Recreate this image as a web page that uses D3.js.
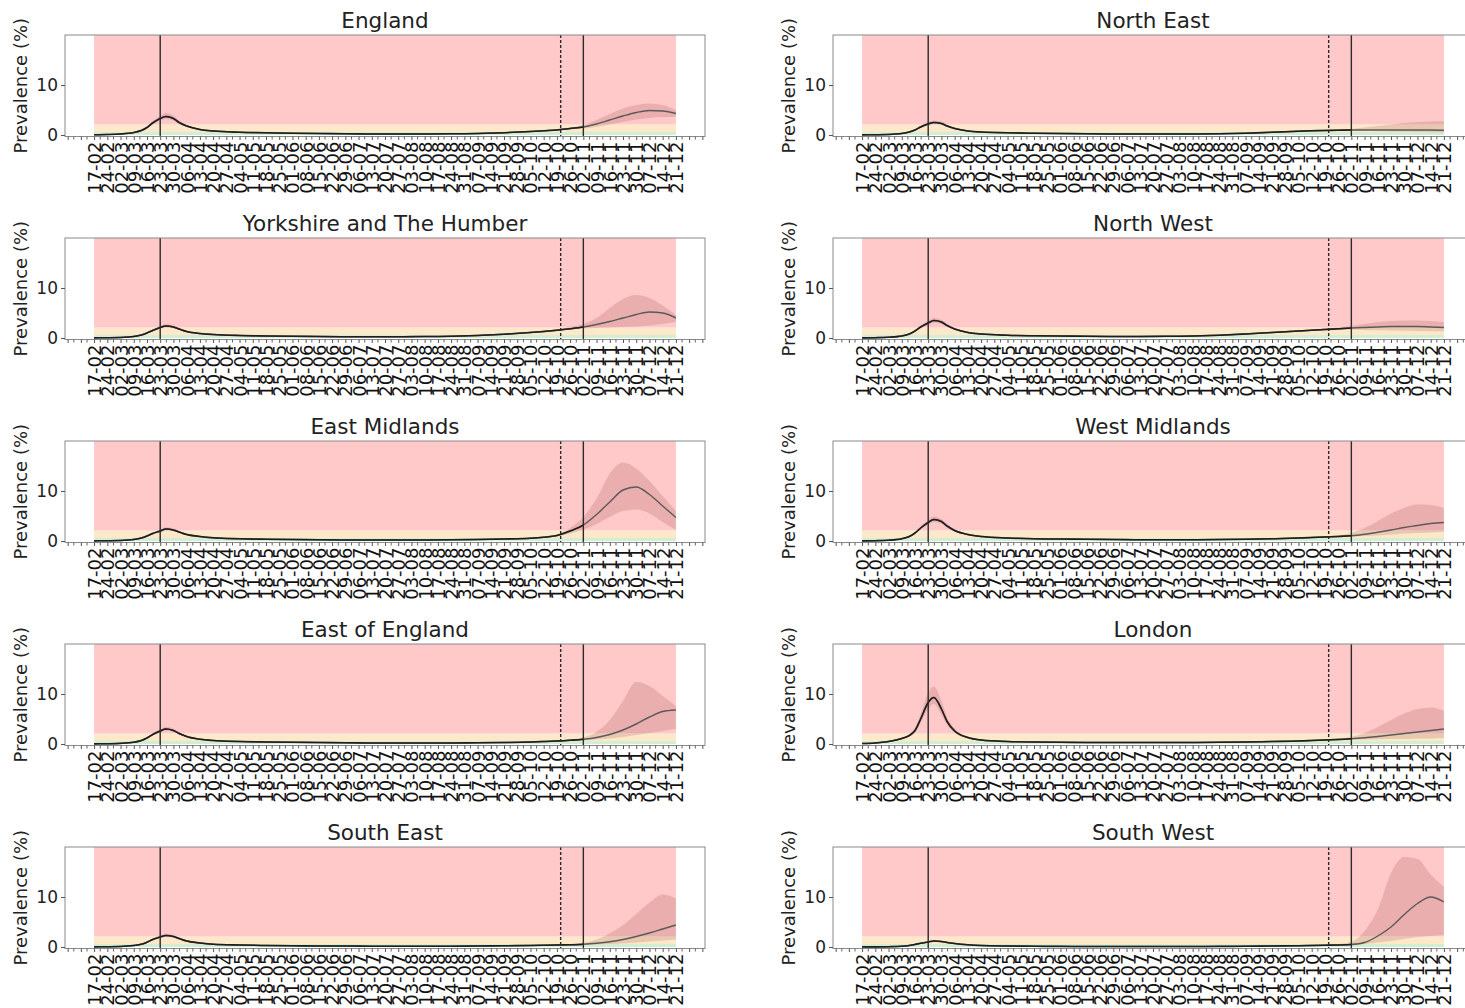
<!DOCTYPE html>
<html>
<head>
<meta charset="utf-8">
<script src="https://cdn.jsdelivr.net/npm/d3@7"></script>
<style>
  body { margin: 0; background: #fff; }
  svg { display: block; font-family: 'DejaVu Sans', sans-serif; }
</style>
</head>
<body>
<div id="chart"></div>
<script>
// sample dates (denser round the spring peak)
const dates = [
  '2020-02-17', '2020-02-24', '2020-03-02', '2020-03-09', '2020-03-13', '2020-03-16',
  '2020-03-19', '2020-03-23', '2020-03-26', '2020-03-30', '2020-04-02', '2020-04-06',
  '2020-04-13', '2020-04-20', '2020-05-04', '2020-05-18', '2020-06-01', '2020-06-15',
  '2020-06-29', '2020-07-13', '2020-07-27', '2020-08-10', '2020-08-24', '2020-09-07',
  '2020-09-21', '2020-10-05', '2020-10-12', '2020-10-19', '2020-10-26', '2020-11-02',
  '2020-11-09', '2020-11-16', '2020-11-23', '2020-11-30', '2020-12-07', '2020-12-14',
  '2020-12-21'
]

// prevalence (%) median / lower / upper
const englandMid = [0.05, 0.1, 0.2, 0.5, 0.9, 1.5, 2.4, 3.3, 3.7, 3.3, 2.5, 1.8, 1.1, 0.8, 0.55, 0.45, 0.35, 0.3, 0.25, 0.2, 0.2, 0.2, 0.25, 0.3, 0.45, 0.7, 0.85, 1.0, 1.3, 1.6, 2.2, 3.0, 3.8, 4.5, 4.9, 4.8, 4.3]
const englandLo = [0.04, 0.08, 0.17, 0.42, 0.78, 1.3, 2.1, 2.9, 3.2, 2.9, 2.2, 1.6, 1.0, 0.7, 0.5, 0.4, 0.3, 0.26, 0.22, 0.18, 0.18, 0.18, 0.22, 0.27, 0.4, 0.62, 0.75, 0.9, 1.15, 1.3, 1.6, 2.1, 2.6, 3.1, 3.4, 3.6, 3.6]
const englandHi = [0.06, 0.12, 0.24, 0.6, 1.05, 1.75, 2.8, 3.8, 4.4, 3.9, 2.9, 2.1, 1.25, 0.9, 0.62, 0.5, 0.4, 0.34, 0.28, 0.23, 0.23, 0.23, 0.28, 0.34, 0.5, 0.78, 0.95, 1.1, 1.5, 2.0, 3.0, 4.2, 5.3, 6.0, 6.3, 6.0, 5.0]

const northEastMid = [0.03, 0.05, 0.1, 0.3, 0.6, 1.0, 1.6, 2.2, 2.5, 2.3, 1.8, 1.3, 0.8, 0.6, 0.45, 0.35, 0.3, 0.25, 0.2, 0.2, 0.2, 0.2, 0.25, 0.35, 0.55, 0.75, 0.85, 0.9, 0.95, 1.0, 1.0, 1.0, 1.0, 1.0, 1.0, 1.0, 0.95]
const northEastLo = [0.02, 0.04, 0.08, 0.25, 0.5, 0.85, 1.4, 1.9, 2.2, 2.0, 1.6, 1.15, 0.7, 0.52, 0.4, 0.3, 0.26, 0.22, 0.18, 0.18, 0.18, 0.18, 0.22, 0.3, 0.48, 0.66, 0.75, 0.8, 0.85, 0.85, 0.8, 0.75, 0.7, 0.65, 0.6, 0.55, 0.5]
const northEastHi = [0.04, 0.06, 0.12, 0.36, 0.72, 1.2, 1.9, 2.6, 2.9, 2.7, 2.1, 1.5, 0.92, 0.7, 0.52, 0.4, 0.34, 0.28, 0.23, 0.23, 0.23, 0.23, 0.28, 0.4, 0.62, 0.85, 0.95, 1.0, 1.08, 1.2, 1.5, 1.8, 2.1, 2.4, 2.6, 2.7, 2.8]

const yorkshireMid = [0.03, 0.05, 0.1, 0.3, 0.6, 1.0, 1.5, 2.1, 2.4, 2.2, 1.8, 1.3, 0.9, 0.7, 0.5, 0.4, 0.35, 0.3, 0.25, 0.25, 0.25, 0.3, 0.35, 0.5, 0.75, 1.1, 1.3, 1.55, 1.85, 2.2, 2.7, 3.3, 4.0, 4.7, 5.2, 5.0, 4.0]
const yorkshireLo = [0.02, 0.04, 0.08, 0.25, 0.5, 0.85, 1.3, 1.85, 2.1, 1.95, 1.6, 1.15, 0.8, 0.62, 0.44, 0.35, 0.3, 0.26, 0.22, 0.22, 0.22, 0.26, 0.3, 0.44, 0.66, 0.98, 1.15, 1.4, 1.65, 1.9, 2.0, 2.1, 2.2, 2.3, 2.5, 2.8, 3.2]
const yorkshireHi = [0.04, 0.06, 0.12, 0.36, 0.72, 1.2, 1.75, 2.4, 2.75, 2.5, 2.05, 1.5, 1.0, 0.8, 0.57, 0.46, 0.4, 0.34, 0.29, 0.29, 0.29, 0.34, 0.4, 0.57, 0.85, 1.25, 1.45, 1.75, 2.2, 2.8, 4.0, 6.0, 7.8, 8.6, 8.0, 6.5, 4.6]

const northWestMid = [0.03, 0.06, 0.15, 0.4, 0.8, 1.4, 2.2, 3.0, 3.5, 3.2, 2.5, 1.8, 1.1, 0.8, 0.55, 0.45, 0.4, 0.35, 0.3, 0.3, 0.35, 0.4, 0.55, 0.8, 1.1, 1.4, 1.55, 1.7, 1.85, 2.0, 2.1, 2.2, 2.3, 2.3, 2.3, 2.2, 2.1]
const northWestLo = [0.02, 0.05, 0.12, 0.34, 0.68, 1.2, 1.9, 2.65, 3.1, 2.85, 2.2, 1.6, 0.98, 0.7, 0.48, 0.4, 0.35, 0.3, 0.26, 0.26, 0.3, 0.35, 0.48, 0.7, 0.98, 1.25, 1.4, 1.5, 1.6, 1.7, 1.6, 1.55, 1.5, 1.45, 1.4, 1.35, 1.3]
const northWestHi = [0.04, 0.07, 0.18, 0.46, 0.92, 1.6, 2.5, 3.4, 3.95, 3.6, 2.8, 2.0, 1.22, 0.9, 0.62, 0.5, 0.45, 0.4, 0.34, 0.34, 0.4, 0.45, 0.62, 0.9, 1.22, 1.55, 1.7, 1.9, 2.1, 2.4, 2.8, 3.2, 3.4, 3.5, 3.5, 3.4, 3.2]

const eastMidlandsMid = [0.03, 0.05, 0.1, 0.3, 0.6, 1.0, 1.5, 2.0, 2.4, 2.2, 1.8, 1.3, 0.9, 0.65, 0.45, 0.35, 0.3, 0.25, 0.2, 0.2, 0.2, 0.2, 0.25, 0.3, 0.4, 0.55, 0.75, 1.1, 2.0, 3.2, 5.3, 7.8, 10.2, 10.8, 9.3, 7.0, 4.7]
const eastMidlandsLo = [0.02, 0.04, 0.08, 0.25, 0.5, 0.85, 1.3, 1.75, 2.1, 1.95, 1.6, 1.15, 0.8, 0.58, 0.4, 0.3, 0.26, 0.22, 0.18, 0.18, 0.18, 0.18, 0.22, 0.26, 0.35, 0.48, 0.65, 0.9, 1.5, 2.3, 3.4, 4.8, 6.0, 6.3, 5.5, 3.8, 2.2]
const eastMidlandsHi = [0.04, 0.06, 0.12, 0.36, 0.72, 1.2, 1.75, 2.3, 2.75, 2.5, 2.05, 1.5, 1.0, 0.73, 0.5, 0.4, 0.34, 0.28, 0.23, 0.23, 0.23, 0.23, 0.28, 0.34, 0.45, 0.63, 0.86, 1.3, 2.6, 4.8, 8.5, 13.5, 15.7, 14.5, 12.0, 9.0, 6.0]

const westMidlandsMid = [0.03, 0.06, 0.15, 0.45, 0.9, 1.6, 2.6, 3.7, 4.3, 3.9, 3.0, 2.1, 1.3, 0.9, 0.6, 0.45, 0.4, 0.35, 0.3, 0.25, 0.25, 0.25, 0.3, 0.35, 0.45, 0.6, 0.7, 0.8, 0.9, 1.05, 1.35, 1.75, 2.2, 2.7, 3.1, 3.5, 3.7]
const westMidlandsLo = [0.02, 0.05, 0.12, 0.38, 0.78, 1.4, 2.3, 3.3, 3.8, 3.45, 2.65, 1.85, 1.15, 0.8, 0.53, 0.4, 0.35, 0.3, 0.26, 0.22, 0.22, 0.22, 0.26, 0.3, 0.4, 0.53, 0.62, 0.7, 0.8, 0.9, 1.0, 1.1, 1.3, 1.5, 1.6, 1.7, 1.8]
const westMidlandsHi = [0.04, 0.07, 0.18, 0.52, 1.02, 1.8, 2.95, 4.2, 4.9, 4.4, 3.4, 2.35, 1.45, 1.0, 0.67, 0.5, 0.45, 0.4, 0.34, 0.28, 0.28, 0.28, 0.34, 0.4, 0.5, 0.67, 0.8, 0.92, 1.1, 1.6, 2.6, 4.0, 5.5, 6.6, 7.3, 7.2, 6.6]

const eastOfEnglandMid = [0.03, 0.05, 0.12, 0.35, 0.7, 1.2, 1.9, 2.6, 3.0, 2.7, 2.1, 1.5, 0.95, 0.7, 0.5, 0.4, 0.35, 0.3, 0.25, 0.2, 0.2, 0.2, 0.2, 0.25, 0.3, 0.4, 0.5, 0.6, 0.75, 0.95, 1.3, 1.9, 2.8, 4.0, 5.4, 6.5, 6.8]
const eastOfEnglandLo = [0.02, 0.04, 0.1, 0.3, 0.6, 1.05, 1.65, 2.3, 2.65, 2.4, 1.85, 1.3, 0.84, 0.62, 0.44, 0.35, 0.3, 0.26, 0.22, 0.18, 0.18, 0.18, 0.18, 0.22, 0.26, 0.35, 0.44, 0.52, 0.62, 0.7, 0.9, 1.1, 1.4, 1.8, 2.2, 2.6, 3.0]
const eastOfEnglandHi = [0.04, 0.06, 0.14, 0.4, 0.8, 1.36, 2.15, 2.95, 3.45, 3.05, 2.35, 1.7, 1.06, 0.78, 0.56, 0.45, 0.4, 0.34, 0.28, 0.23, 0.23, 0.23, 0.23, 0.28, 0.34, 0.45, 0.56, 0.68, 0.9, 1.3, 2.4, 4.8, 8.6, 12.4, 11.6, 9.6, 7.6]

const londonMid = [0.1, 0.2, 0.5, 1.1, 1.7, 2.7, 5.0, 8.3, 9.3, 7.0, 4.5, 2.6, 1.3, 0.8, 0.5, 0.4, 0.35, 0.3, 0.3, 0.3, 0.3, 0.3, 0.35, 0.4, 0.5, 0.6, 0.7, 0.8, 0.9, 1.05, 1.25, 1.5, 1.8, 2.1, 2.4, 2.7, 3.0]
const londonLo = [0.08, 0.17, 0.42, 0.95, 1.45, 2.2, 4.2, 7.0, 8.0, 5.8, 3.8, 2.2, 1.1, 0.7, 0.44, 0.35, 0.3, 0.26, 0.26, 0.26, 0.26, 0.26, 0.3, 0.35, 0.44, 0.52, 0.6, 0.7, 0.8, 0.9, 0.9, 0.95, 1.0, 1.0, 1.1, 1.1, 1.2]
const londonHi = [0.12, 0.24, 0.6, 1.3, 2.0, 3.2, 6.0, 10.2, 11.5, 8.6, 5.4, 3.1, 1.5, 0.92, 0.57, 0.46, 0.4, 0.34, 0.34, 0.34, 0.34, 0.34, 0.4, 0.46, 0.57, 0.68, 0.8, 0.92, 1.05, 1.4, 2.2, 3.4, 4.8, 6.1, 7.0, 7.3, 6.6]

const southEastMid = [0.03, 0.05, 0.1, 0.3, 0.55, 0.95, 1.5, 2.0, 2.3, 2.1, 1.7, 1.2, 0.8, 0.55, 0.4, 0.3, 0.25, 0.2, 0.2, 0.15, 0.15, 0.15, 0.15, 0.2, 0.25, 0.3, 0.35, 0.4, 0.45, 0.55, 0.75, 1.05, 1.5, 2.1, 2.8, 3.6, 4.4]
const southEastLo = [0.02, 0.04, 0.08, 0.25, 0.47, 0.82, 1.3, 1.75, 2.0, 1.85, 1.5, 1.05, 0.7, 0.48, 0.35, 0.26, 0.22, 0.18, 0.18, 0.13, 0.13, 0.13, 0.13, 0.18, 0.22, 0.26, 0.3, 0.35, 0.38, 0.4, 0.5, 0.6, 0.75, 0.9, 1.1, 1.3, 1.5]
const southEastHi = [0.04, 0.06, 0.12, 0.36, 0.64, 1.1, 1.72, 2.3, 2.65, 2.4, 1.95, 1.38, 0.9, 0.62, 0.46, 0.34, 0.28, 0.23, 0.23, 0.17, 0.17, 0.17, 0.17, 0.23, 0.28, 0.34, 0.4, 0.46, 0.55, 0.8, 1.5, 2.7, 4.4, 6.6, 8.9, 10.5, 9.7]

const southWestMid = [0.02, 0.03, 0.06, 0.15, 0.3, 0.5, 0.75, 1.0, 1.2, 1.1, 0.9, 0.7, 0.45, 0.3, 0.2, 0.15, 0.12, 0.1, 0.1, 0.1, 0.1, 0.1, 0.12, 0.15, 0.2, 0.25, 0.3, 0.35, 0.4, 0.5, 0.9, 2.2, 4.0, 6.5, 8.7, 10.0, 9.0]
const southWestLo = [0.01, 0.02, 0.05, 0.12, 0.25, 0.42, 0.64, 0.85, 1.0, 0.93, 0.76, 0.6, 0.38, 0.26, 0.17, 0.13, 0.1, 0.08, 0.08, 0.08, 0.08, 0.08, 0.1, 0.13, 0.17, 0.21, 0.26, 0.3, 0.34, 0.4, 0.6, 0.9, 1.2, 1.6, 2.0, 2.2, 2.4]
const southWestHi = [0.03, 0.04, 0.07, 0.18, 0.35, 0.58, 0.86, 1.15, 1.45, 1.3, 1.05, 0.8, 0.52, 0.35, 0.23, 0.17, 0.14, 0.12, 0.12, 0.12, 0.12, 0.12, 0.14, 0.17, 0.23, 0.29, 0.35, 0.4, 0.6, 1.0, 3.2, 7.5, 14.8, 18.0, 17.6, 14.5, 12.0]

// background zones (green / amber / red)
const zoneBreaks = [0, 0.6, 2.1, 20]
const zoneColours = ['#d3efd3', '#fde8c9', '#ffc9c9']

const yTicks = [0, 10]
const eventLines = [
  { date: '2020-03-23', dashed: false },
  { date: '2020-10-21', dashed: true },
  { date: '2020-11-02', dashed: false }
]

const regions = [
  { name: 'England', mid: englandMid, lo: englandLo, hi: englandHi },
  { name: 'North East', mid: northEastMid, lo: northEastLo, hi: northEastHi },
  { name: 'Yorkshire and The Humber', mid: yorkshireMid, lo: yorkshireLo, hi: yorkshireHi },
  { name: 'North West', mid: northWestMid, lo: northWestLo, hi: northWestHi },
  { name: 'East Midlands', mid: eastMidlandsMid, lo: eastMidlandsLo, hi: eastMidlandsHi },
  { name: 'West Midlands', mid: westMidlandsMid, lo: westMidlandsLo, hi: westMidlandsHi },
  { name: 'East of England', mid: eastOfEnglandMid, lo: eastOfEnglandLo, hi: eastOfEnglandHi },
  { name: 'London', mid: londonMid, lo: londonLo, hi: londonHi },
  { name: 'South East', mid: southEastMid, lo: southEastLo, hi: southEastHi },
  { name: 'South West', mid: southWestMid, lo: southWestLo, hi: southWestHi }
]

const parseDate = d3.timeParse('%Y-%m-%d')
const formatTick = d3.timeFormat('%d-%m')
const days = dates.map(parseDate)
const first = days[0]
const last = days[days.length - 1]
const cutDate = parseDate(eventLines[2].date)

const colLeft = [65, 833]
const rowTop = 35
const rowStep = 203
const width = 640
const height = 101.5

const svg = d3
  .select('#chart')
  .append('svg')
  .attr('width', 1465)
  .attr('height', 1008)

// matplotlib style 5% margin on the date axis
const pad = (last - first) * 0.05
const x = d3.scaleTime()
  .domain([new Date(+first - pad), new Date(+last + pad)])
  .range([0, width])
const y = d3.scaleLinear().domain([-0.3, 20]).range([height, 0])

const mondays = d3.timeMonday.range(x.domain()[0], x.domain()[1])
const thursdays = d3.timeThursday.range(x.domain()[0], x.domain()[1])

const area = d3.area()
  .x(d => x(d.date))
  .y0(d => y(d.lo))
  .y1(d => y(d.hi))
  .curve(d3.curveMonotoneX)

const line = d3.line()
  .x(d => x(d.date))
  .y(d => y(d.mid))
  .curve(d3.curveMonotoneX)

regions.forEach((region, k) => {
  const col = k % 2
  const row = Math.floor(k / 2)
  const g = svg.append('g')
    .attr('transform', `translate(${colLeft[col]},${rowTop + row * rowStep})`)

  const points = days.map((date, i) => ({
    date: date,
    mid: region.mid[i],
    lo: region.lo[i],
    hi: region.hi[i]
  }))

  // zones
  g.selectAll('.zone')
    .data(zoneColours)
    .enter()
    .append('rect')
    .attr('class', 'zone')
    .attr('x', x(first))
    .attr('width', x(last) - x(first))
    .attr('y', (c, i) => y(zoneBreaks[i + 1]))
    .attr('height', (c, i) => y(zoneBreaks[i]) - y(zoneBreaks[i + 1]))
    .attr('fill', c => c)

  // credible interval
  g.append('path')
    .datum(points)
    .attr('d', area)
    .attr('fill', '#8b3a3a')
    .attr('fill-opacity', 0.18)

  // median, darker for the fitted part
  const clipId = 'clip-' + k
  g.append('clipPath')
    .attr('id', clipId)
    .append('rect')
    .attr('x', 0)
    .attr('y', 0)
    .attr('width', x(cutDate))
    .attr('height', height)

  g.append('path')
    .datum(points)
    .attr('d', line)
    .attr('fill', 'none')
    .attr('stroke', '#5a5a5a')
    .attr('stroke-width', 1.4)

  g.append('path')
    .datum(points)
    .attr('d', line)
    .attr('clip-path', `url(#${clipId})`)
    .attr('fill', 'none')
    .attr('stroke', '#1e1e1e')
    .attr('stroke-width', 1.6)

  // event lines
  g.selectAll('.event')
    .data(eventLines)
    .enter()
    .append('line')
    .attr('class', 'event')
    .attr('x1', d => x(parseDate(d.date)))
    .attr('x2', d => x(parseDate(d.date)))
    .attr('y1', 0)
    .attr('y2', height)
    .attr('stroke', '#2a2a2a')
    .attr('stroke-width', 1.4)
    .attr('stroke-dasharray', d => d.dashed ? '3,2' : null)

  // frame
  g.append('rect')
    .attr('width', width)
    .attr('height', height)
    .attr('fill', 'none')
    .attr('stroke', '#8a8a8a')
    .attr('stroke-width', 1)

  // y axis
  const yAxis = g.append('g')
    .call(d3.axisLeft(y).tickValues(yTicks).tickSize(4).tickPadding(3))
  yAxis.select('.domain').remove()
  yAxis.selectAll('line').attr('stroke', '#555')
  yAxis.selectAll('text')
    .attr('font-size', 17)
    .attr('font-family', 'DejaVu Sans')
    .attr('fill', '#222')

  // x axis: minor ticks then labelled weekly ticks
  const xMinor = g.append('g')
    .attr('transform', `translate(0,${height})`)
    .call(d3.axisBottom(x).tickValues(thursdays).tickSize(3).tickFormat(''))
  xMinor.select('.domain').remove()
  xMinor.selectAll('line').attr('stroke', '#666')

  const xAxis = g.append('g')
    .attr('transform', `translate(0,${height})`)
    .call(d3.axisBottom(x)
      .tickValues(mondays)
      .tickSize(3.5)
      .tickFormat(d => (d >= first && d <= last) ? formatTick(d) : ''))
  xAxis.select('.domain').remove()
  xAxis.selectAll('line').attr('stroke', '#555')
  xAxis.selectAll('text')
    .attr('font-size', 18)
    .attr('font-family', 'DejaVu Sans')
    .attr('fill', '#111')
    .attr('text-anchor', 'end')
    .attr('transform', 'rotate(-90)')
    .attr('x', -5)
    .attr('y', 0)
    .attr('dy', '0.36em')

  // title
  g.append('text')
    .attr('x', width / 2)
    .attr('y', -7)
    .attr('text-anchor', 'middle')
    .attr('font-size', 21.5)
    .attr('fill', '#222')
    .text(region.name)

  // y label
  g.append('text')
    .attr('transform', `translate(-44,${height / 2}) rotate(-90)`)
    .attr('text-anchor', 'middle')
    .attr('dy', '0.35em')
    .attr('font-size', 18)
    .attr('fill', '#222')
    .text('Prevalence (%)')
})
</script>
</body>
</html>
